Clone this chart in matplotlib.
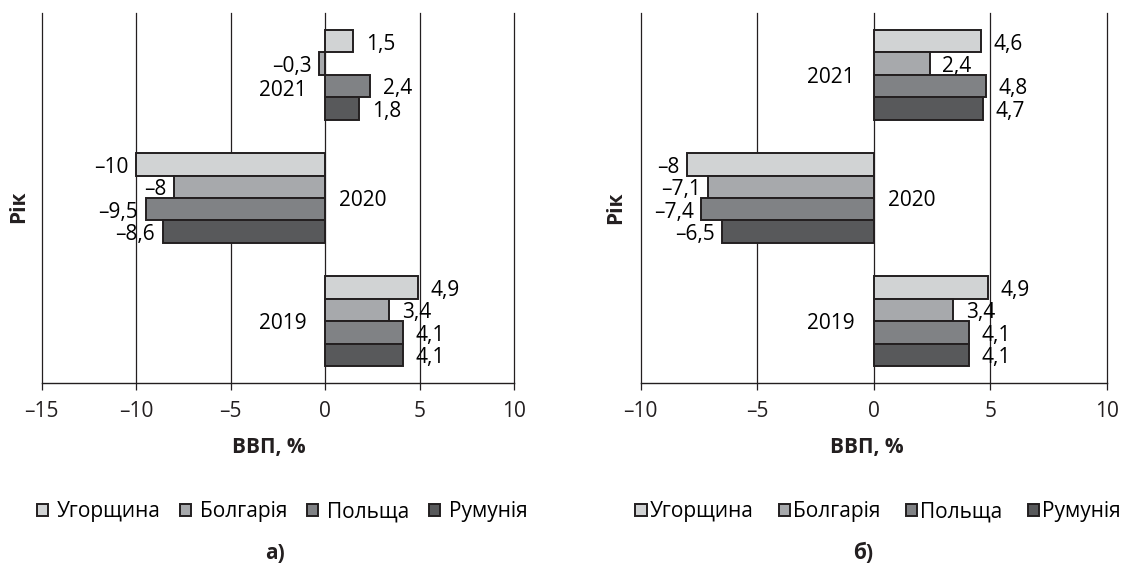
import numpy as np
import matplotlib.pyplot as plt

plt.rcParams['font.family'] = ['Open Sans', 'DejaVu Sans']
plt.rcParams['font.size'] = 15

# ------------------ Data ------------------
years = ['2019', '2020', '2021']
countries = ['Угорщина', 'Болгарія', 'Польща', 'Румунія']
colors = ['#d1d3d4', '#a7a9ac', '#808285', '#58595b']

# panel а)  (2019, 2020, 2021)
hungary_a = [4.9, -10, 1.5]
bulgaria_a = [3.4, -8, -0.3]
poland_a = [4.1, -9.5, 2.4]
romania_a = [4.1, -8.6, 1.8]

# panel б)
hungary_b = [4.9, -8, 4.6]
bulgaria_b = [3.4, -7.1, 2.4]
poland_b = [4.1, -7.4, 4.8]
romania_b = [4.1, -6.5, 4.7]

ticks_a = [-15, -10, -5, 0, 5, 10]
ticks_b = [-10, -5, 0, 5, 10]

INK = '#231f20'


def fmt(v):
    s = ('%g' % v).replace('.', ',')
    return s.replace('-', '\u2013')


def draw_panel(ax, series, ticks, cat_shift):
    y = np.arange(len(years))
    h = 0.182
    offsets = [1.5 * h, 0.5 * h, -0.5 * h, -1.5 * h]
    for vals, off, col, name in zip(series, offsets, colors, countries):
        ax.barh(y + off, vals, height=h, color=col, edgecolor=INK,
                linewidth=1.4, label=name, zorder=3)
        for yi, v in zip(y, vals):
            if v >= 0:
                ax.annotate(fmt(v), (v, yi + off), xytext=(9, -2),
                            textcoords='offset points', ha='left', va='center')
            else:
                ax.annotate(fmt(v), (v, yi + off), xytext=(-5.5, -2),
                            textcoords='offset points', ha='right', va='center')

    # category labels next to the zero line
    for i, yr in enumerate(years):
        all_neg = all(s[i] < 0 for s in series)
        if all_neg:
            ax.annotate(yr, (0, i), xytext=(10, -2 + cat_shift[i]),
                        textcoords='offset points', ha='left', va='center')
        else:
            ax.annotate(yr, (0, i), xytext=(-13.5, -2 + cat_shift[i]),
                        textcoords='offset points', ha='right', va='center')

    ax.set_xlim(ticks[0], ticks[-1])
    ax.set_ylim(-0.5, len(years) - 0.5)
    ax.set_xticks(ticks)
    ax.set_xticklabels([fmt(t) for t in ticks])
    ax.set_yticks([])
    for side in ['top', 'left', 'right']:
        ax.spines[side].set_visible(False)
    ax.spines['bottom'].set_color(INK)
    ax.spines['bottom'].set_linewidth(1.0)
    ax.tick_params(axis='x', direction='out', length=4.7, width=0.9,
                   color=INK, pad=8.5, labelcolor=INK)
    ax.grid(axis='x', color=INK, linewidth=0.9, zorder=0)
    ax.set_axisbelow(True)
    # keep edge gridlines at full width
    for gl in ax.get_xgridlines():
        gl.set_clip_on(False)

    ax.set_xlabel('ВВП, %', fontweight='bold', color=INK)
    ax.set_ylabel('Рік', fontweight='bold', color=INK)


fig = plt.figure(figsize=(11.23, 5.64), dpi=100)
ax_a = fig.add_axes([0.0371, 0.3214, 0.4206, 0.655])
ax_b = fig.add_axes([0.5705, 0.3214, 0.4152, 0.655])

draw_panel(ax_a, [hungary_a, bulgaria_a, poland_a, romania_a], ticks_a, [0, 0, -9])
draw_panel(ax_b, [hungary_b, bulgaria_b, poland_b, romania_b], ticks_b, [0, 0, 0])

ax_a.xaxis.set_label_coords(0.481, -0.174)
ax_b.xaxis.set_label_coords(0.485, -0.174)
ax_a.xaxis.label.set_va('center')
ax_b.xaxis.label.set_va('center')
ax_a.yaxis.set_label_coords(-0.049, 0.476)
ax_b.yaxis.set_label_coords(-0.054, 0.475)
ax_a.yaxis.label.set_va('center')
ax_b.yaxis.label.set_va('center')

# legends under each panel
h_a, l_a = ax_a.get_legend_handles_labels()
fig.legend(h_a, l_a, loc='center', bbox_to_anchor=(0.251, 0.0925), ncol=4,
           frameon=False, handlelength=0.55, handleheight=0.55,
           handletextpad=0.4, columnspacing=0.95, borderaxespad=0)
h_b, l_b = ax_b.get_legend_handles_labels()
fig.legend(h_b, l_b, loc='center', bbox_to_anchor=(0.782, 0.0925), ncol=4,
           frameon=False, handlelength=0.55, handleheight=0.55,
           handletextpad=0.15, columnspacing=1.2, borderaxespad=0)

fig.text(0.245, 0.019, 'а)', ha='center', va='center', fontweight='bold', color=INK)
fig.text(0.769, 0.019, 'б)', ha='center', va='center', fontweight='bold', color=INK)

fig.savefig('out.png', dpi=100)
